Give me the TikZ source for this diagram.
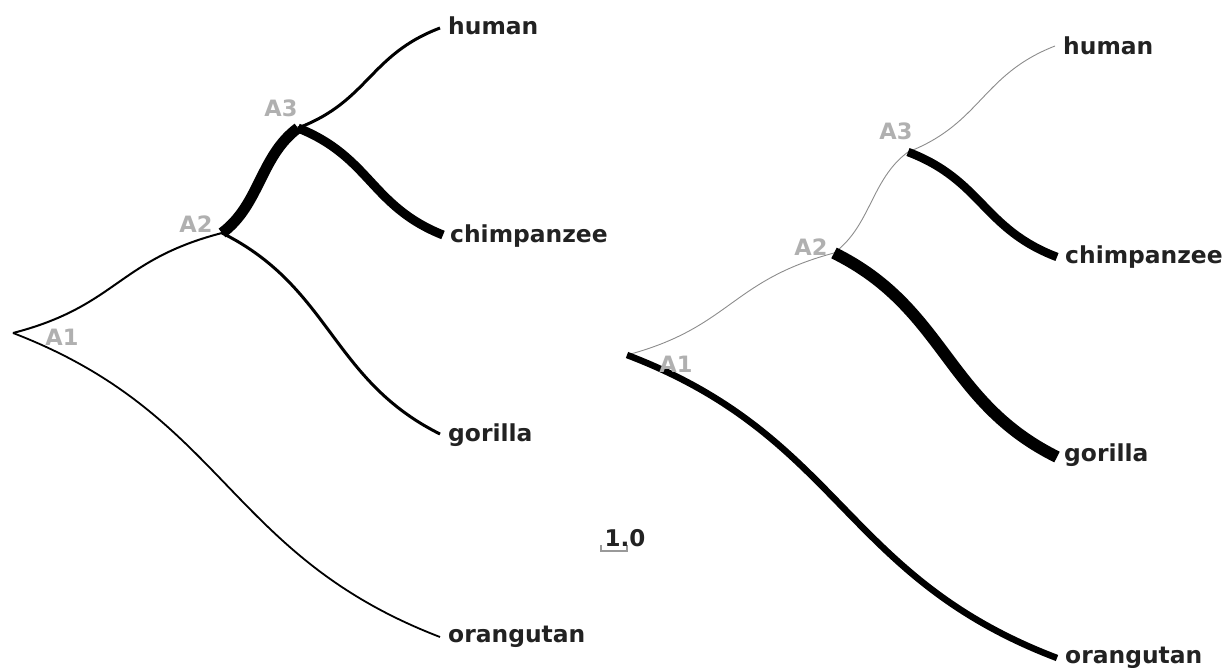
\documentclass[tikz,border=0pt]{standalone}
\usepackage{fontspec}
\setmainfont{DejaVu Sans}
\usetikzlibrary{calc}
\definecolor{leafink}{HTML}{222222}
\definecolor{innerink}{HTML}{B0B0B0}
\definecolor{ghost}{HTML}{8C8C8C}
\definecolor{barink}{HTML}{999999}
\begin{document}
\begin{tikzpicture}[x=1pt,y=-1pt,
  branch/.style={line cap=butt, to path={let \p1=(\tikztostart), \p2=(\tikztotarget) in
      .. controls ({\x1+0.5*(\x2-\x1)},{\y1+0.27*(\y2-\y1)})
      and ({\x2-0.5*(\x2-\x1)},{\y2-0.27*(\y2-\y1)}) .. (\tikztotarget)}},
  leaf/.style={anchor=base west, inner sep=0pt, text=leafink,
      font=\fontsize{23.4}{28}\selectfont\bfseries},
  inner/.style={anchor=center, inner sep=0pt, text=innerink,
      font=\fontsize{22.5}{27}\selectfont\bfseries},
  faint/.style={draw=ghost, line width=0.9pt}]
\useasboundingbox (0,0) rectangle (1225,668);

% ---- left tree ----
\coordinate (LA1) at (13,333);
\coordinate (LA2) at (222,233);
\coordinate (LA3) at (298,128);
\coordinate (LH) at (440,28);
\coordinate (LC) at (443,235);
\coordinate (LG) at (440,434);
\coordinate (LO) at (440,637);

\draw[line width=1.8pt] (LA1) to[branch] (LO);
\draw[line width=2pt] (LA1) to[branch] (LA2);
\draw[line width=3pt] (LA2) to[branch] (LG);
\draw[line width=3pt] (LA3) to[branch] (LH);
\draw[line width=11pt] (LA2) to[branch] (LA3);
\draw[line width=9pt] (LA3) to[branch] (LC);

\node[inner] (lA1) at (62,337) {A1};
\node[inner] (lA2) at (196,224) {A2};
\node[inner] (lA3) at (281,108) {A3};
\node[leaf] (lH) at (448,35) {human};
\node[leaf] (lC) at (450,243) {chimpanzee};
\node[leaf] (lG) at (448,441) {gorilla};
\node[leaf] (lO) at (448,642) {orangutan};

% ---- right tree ----
\coordinate (RA1) at (627,355);
\coordinate (RA2) at (834,253);
\coordinate (RA3) at (908,152);
\coordinate (RH) at (1055,46);
\coordinate (RC) at (1057,257);
\coordinate (RG) at (1057,457);
\coordinate (RO) at (1057,658);

\draw[faint] (RA1) to[branch] (RA2);
\draw[faint] (RA2) to[branch] (RA3);
\draw[faint] (RA3) to[branch] (RH);
\draw[line width=6.5pt] (RA1) to[branch] (RO);
\draw[line width=12pt] (RA2) to[branch] (RG);
\draw[line width=8.5pt] (RA3) to[branch] (RC);

\node[inner] (rA1) at (676,364) {A1};
\node[inner] (rA2) at (811,247) {A2};
\node[inner] (rA3) at (896,131) {A3};
\node[leaf] (rH) at (1063,55) {human};
\node[leaf] (rC) at (1065,263) {chimpanzee};
\node[leaf] (rG) at (1064,461) {gorilla};
\node[leaf] (rO) at (1065,663) {orangutan};

% ---- scale bar ----
\coordinate (S0) at (601,551);
\coordinate (S1) at (627,551);
\draw[barink, line width=2pt] (S0) -- (S1);
\draw[barink, line width=1.5pt] ($(S0)+(0,-6)$) -- ($(S0)+(0,1)$);
\draw[barink, line width=1.5pt] ($(S1)+(0,-6)$) -- ($(S1)+(0,1)$);
\node[leaf, anchor=base, font=\fontsize{23}{27}\selectfont\bfseries] (scale) at (625,546) {1.0};
\end{tikzpicture}
\end{document}
